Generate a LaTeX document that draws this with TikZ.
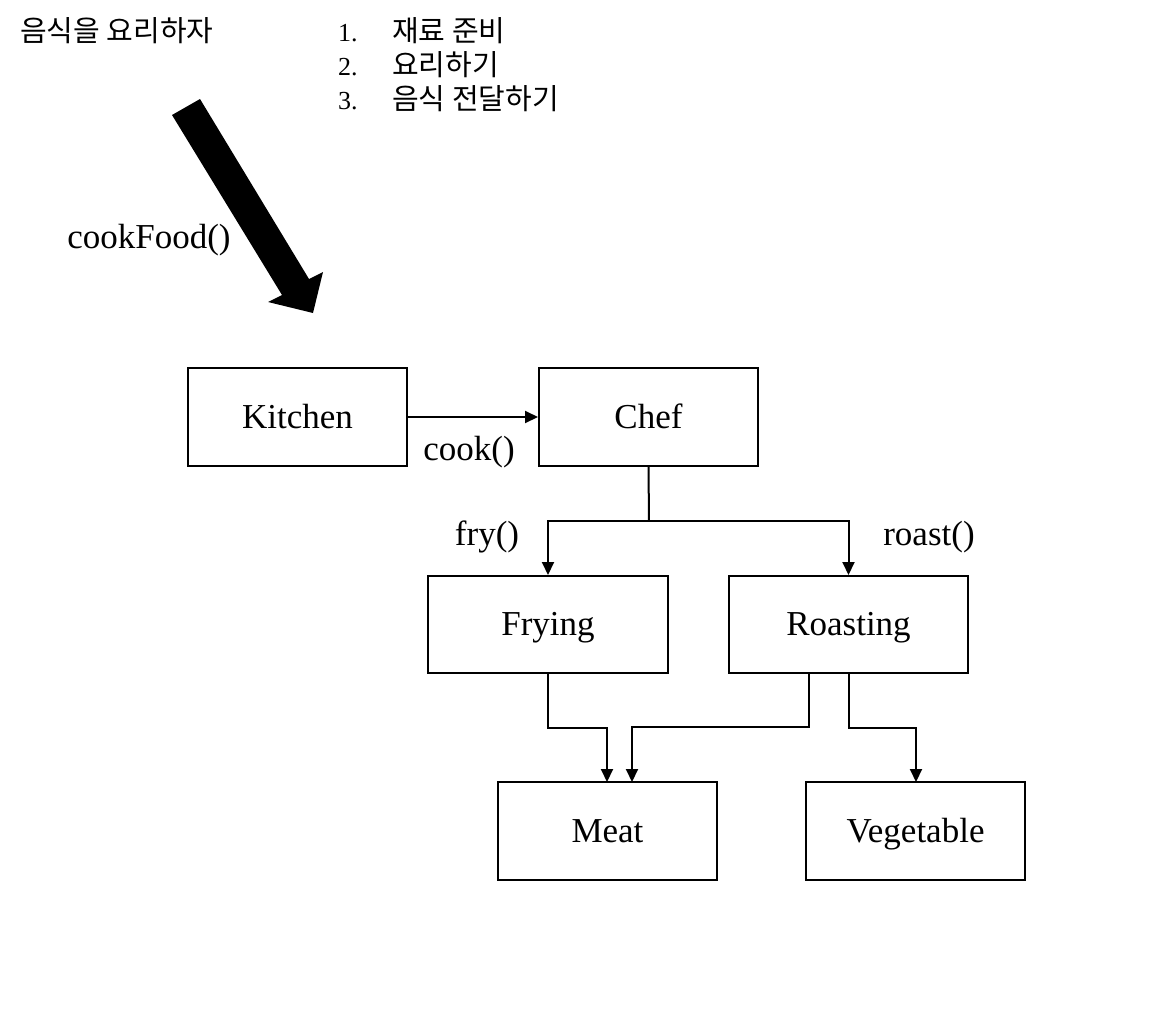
\documentclass[tikz,border=0pt]{standalone}
\usepackage{fontspec}
\setmainfont{Liberation Serif}
\newfontfamily\kor{Noto Sans CJK KR}
\usetikzlibrary{arrows.meta}
\begin{document}
\begin{tikzpicture}[x=1pt,y=-1pt,
  box/.style={draw,line width=2pt,minimum width=219pt,minimum height=98pt,font=\fontsize{35}{40}\selectfont,inner sep=0pt,text height=26pt,text depth=4pt},
  conn/.style={line width=2pt,-{Triangle[length=13pt,width=12pt]}},
  lbl/.style={font=\fontsize{35}{40}\selectfont,inner sep=0pt},
  ktxt/.style={font=\kor\fontsize{29}{34}\selectfont,inner sep=0pt,anchor=west},
  num/.style={font=\fontsize{26}{30}\selectfont,inner sep=0pt,anchor=west}]
\useasboundingbox (0,0) rectangle (1176,1028);
% title and list
\node[ktxt] (title) at (20,31) {음식을 요리하자};
\node[num] (n1) at (338,33) {1.};
\node[num] (n2) at (338,67) {2.};
\node[num] (n3) at (338,101) {3.};
\node[ktxt] (i1) at (392,31) {재료 준비};
\node[ktxt] (i2) at (392,65) {요리하기};
\node[ktxt] (i3) at (392,99) {음식 전달하기};
% big arrow
\fill (172,115) -- (200,99) -- (309,279) -- (323,272) -- (313,313) -- (268,302) -- (282,295) -- cycle;
\node[lbl] (cf) at (149,240) {cookFood()};
% boxes
\node[box] (kitchen) at (297.5,417) {Kitchen};
\node[box] (chef) at (648.5,417) {Chef};
\node[box,minimum width=240pt,minimum height=97pt] (frying) at (548,624.5) {Frying};
\node[box,minimum width=239pt,minimum height=97pt] (roasting) at (848.5,624.5) {Roasting};
\node[box] (meat) at (607.5,831) {Meat};
\node[box] (veg) at (915.5,831) {Vegetable};
% connectors
\draw[conn] (kitchen.east) -- (chef.west);
\node[lbl] (cook) at (469,452) {cook()};
\coordinate (split) at (649,521);
\draw[line width=2pt] (chef.south) -- (split);
\draw[conn] (split) -| (frying.north);
\draw[conn] (split) -| (roasting.north);
\node[lbl] (fry) at (487,537) {fry()};
\node[lbl] (roast) at (929,537) {roast()};
% to meat and vegetable
\coordinate (m1) at (607,782);
\coordinate (m2) at (632,782);
\coordinate (r1) at (809,673);
\coordinate (r2) at (849,673);
\coordinate (v1) at (916,782);
\draw[conn] (frying.south) -- (548,728) -- (607,728) -- (m1);
\draw[conn] (r1) -- (809,727) -- (632,727) -- (m2);
\draw[conn] (r2) -- (849,728) -- (916,728) -- (v1);
\end{tikzpicture}
\end{document}
